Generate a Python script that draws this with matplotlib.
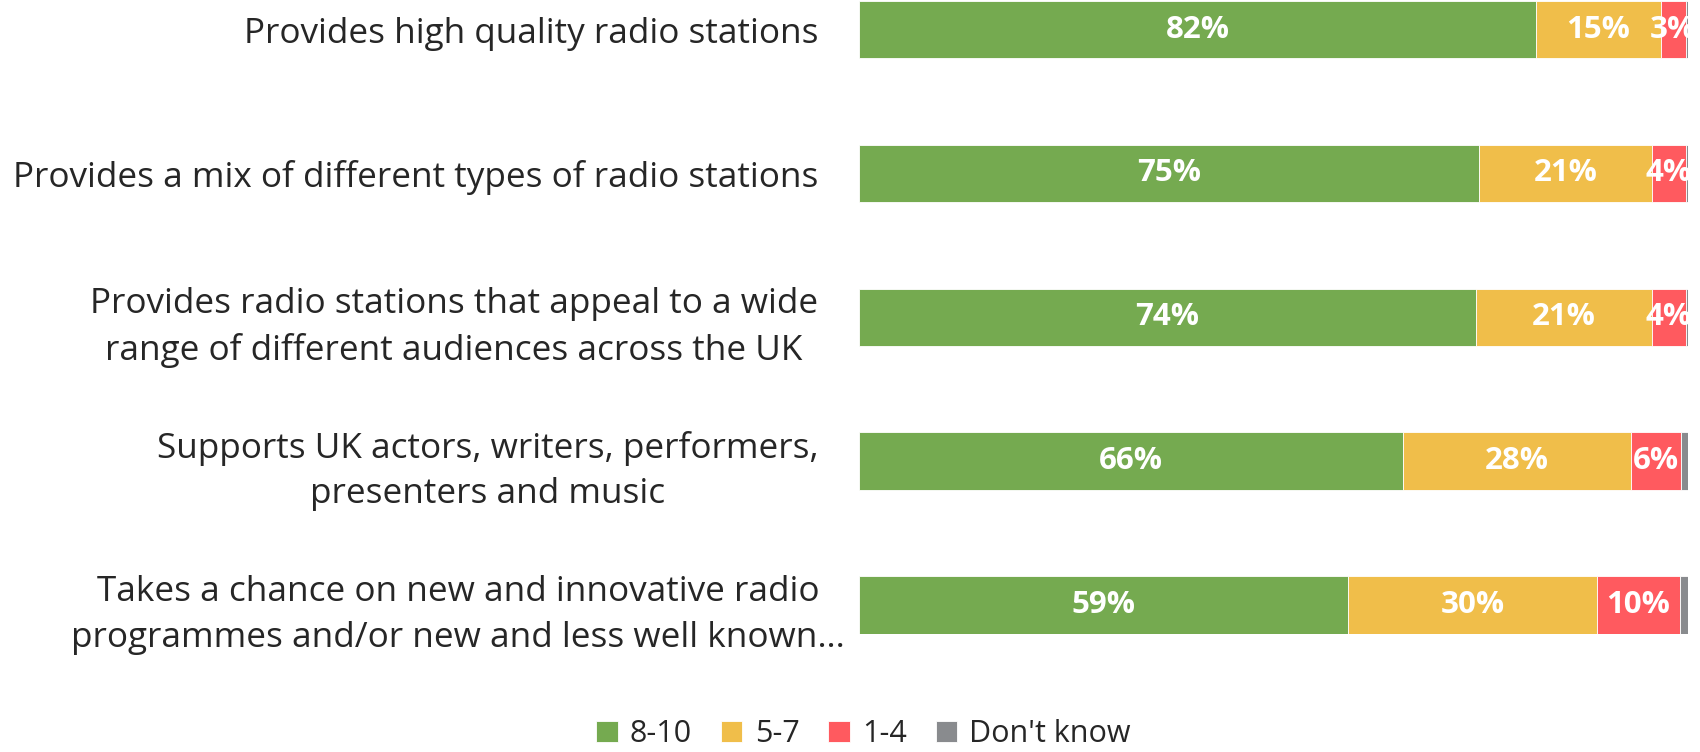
import matplotlib.pyplot as plt
import matplotlib.transforms as mtransforms

plt.rcParams['font.family'] = ['Open Sans', 'DejaVu Sans']

statements = [
    "Provides high quality radio stations",
    "Provides a mix of different types of radio stations",
    "Provides radio stations that appeal to a wide\nrange of different audiences across the UK",
    "Supports UK actors, writers, performers,\npresenters and music",
    "Takes a chance on new and innovative radio\nprogrammes and/or new and less well known\u2026",
]
score_8_10 = [81.7, 74.8, 74.4, 65.6, 59.0]
score_5_7 = [15.0, 20.9, 21.3, 27.5, 30.0]
score_1_4 = [3.0, 4.0, 4.0, 6.0, 10.0]
dont_know = [0.3, 0.3, 0.3, 0.9, 1.0]

series = [
    ("8-10", score_8_10, "#75AA50"),
    ("5-7", score_5_7, "#F0BE4A"),
    ("1-4", score_1_4, "#FF5A5F"),
    ("Don't know", dont_know, "#898B8E"),
]

fig = plt.figure(figsize=(17, 7.52), dpi=100)
ax = fig.add_axes([0.505, 0.157, 0.488, 0.842])

ypos = list(range(len(statements)))
left = [0.0] * len(statements)
for name, vals, color in series:
    ax.barh(ypos, vals, left=left, height=0.4, color=color, label=name,
            edgecolor='white', linewidth=0.6)
    if name != "Don't know":
        for y, l, v in zip(ypos, left, vals):
            ax.text(l + v / 2, y, f"{v:.0f}%", ha='center', va='center',
                    color='white', fontsize=22.5, fontweight='bold', clip_on=True)
    left = [a + b for a, b in zip(left, vals)]

ax.set_xlim(0, 100)
ax.set_ylim(4.2, -0.2)
ax.set_yticks(ypos)
ax.set_yticklabels(statements, fontsize=25.3, color='#262626',
                   multialignment='center', linespacing=1.45)
ax.tick_params(axis='y', length=0, pad=29)
ax.set_xticks([])
for s in ax.spines.values():
    s.set_visible(False)

# the long last label runs a bit past the others
last = ax.get_yticklabels()[-1]
last.set_transform(last.get_transform() +
                   mtransforms.ScaledTranslation(0.27, 0, fig.dpi_scale_trans))

fig.legend(loc='center', bbox_to_anchor=(0.508, 0.024), ncol=4, frameon=False,
           fontsize=22, handlelength=0.7, handleheight=0.7, handletextpad=0.4,
           columnspacing=0.95, labelcolor='#262626')

fig.savefig("out.png", dpi=100)
